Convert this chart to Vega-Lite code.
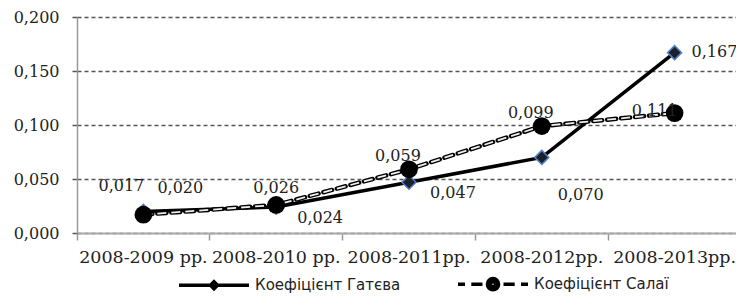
{
  "$schema": "https://vega.github.io/schema/vega-lite/v6.json",
  "width": 659,
  "height": 216,
  "autosize": {"type": "none"},
  "padding": {"left": 77, "top": 17, "right": 0, "bottom": 63},
  "background": "white",
  "config": {
    "locale": {"number": {"decimal": ",", "thousands": " ", "grouping": [3], "currency": ["", ""]}},
    "view": {"stroke": null},
    "font": "DejaVu Serif"
  },
  "data": {
    "values": [
      {"period": "2008-2009 рр.", "series": "Коефіцієнт Гатєва", "value": 0.020},
      {"period": "2008-2010 рр.", "series": "Коефіцієнт Гатєва", "value": 0.024},
      {"period": "2008-2011рр.", "series": "Коефіцієнт Гатєва", "value": 0.047},
      {"period": "2008-2012рр.", "series": "Коефіцієнт Гатєва", "value": 0.070},
      {"period": "2008-2013рр.", "series": "Коефіцієнт Гатєва", "value": 0.167},
      {"period": "2008-2009 рр.", "series": "Коефіцієнт Салаї", "value": 0.017},
      {"period": "2008-2010 рр.", "series": "Коефіцієнт Салаї", "value": 0.026},
      {"period": "2008-2011рр.", "series": "Коефіцієнт Салаї", "value": 0.059},
      {"period": "2008-2012рр.", "series": "Коефіцієнт Салаї", "value": 0.099},
      {"period": "2008-2013рр.", "series": "Коефіцієнт Салаї", "value": 0.111}
    ]
  },
  "encoding": {
    "x": {
      "field": "period", "type": "ordinal", "sort": null, "bandPosition": 0.5,
      "scale": {"type": "band", "paddingInner": 0, "paddingOuter": 0, "range": [0, 664]},
      "axis": {
        "title": null, "bandPosition": 0, "labelOffset": 0, "labelAngle": 0,
        "tickSize": 7, "tickColor": "#999", "tickWidth": 1.5,
        "domainColor": "#aaa", "domainWidth": 2, "grid": false,
        "labelFont": "DejaVu Serif", "labelFontSize": 17.5, "labelColor": "#222", "labelPadding": 8
      }
    },
    "y": {
      "field": "value", "type": "quantitative",
      "scale": {"domain": [0, 0.2], "nice": false},
      "axis": {
        "title": null, "values": [0, 0.05, 0.1, 0.15, 0.2], "format": ".3f",
        "grid": true, "gridDash": [4, 3], "gridColor": "#555", "gridWidth": 1.5,
        "tickColor": "#555", "tickSize": 5, "tickWidth": 1.5,
        "domainColor": "#999", "domainWidth": 1.5,
        "labelFont": "DejaVu Serif", "labelFontSize": 16, "labelColor": "#222", "labelPadding": 13
      }
    }
  },
  "layer": [
    {
      "transform": [{"filter": "datum.series === 'Коефіцієнт Гатєва'"}],
      "mark": {"type": "line", "color": "black", "strokeWidth": 3.5}
    },
    {
      "transform": [{"filter": "datum.series === 'Коефіцієнт Гатєва'"}],
      "mark": {"type": "point", "shape": "diamond", "filled": true, "fill": "#1c1f2e", "stroke": "#4F81BD", "strokeWidth": 1.5, "size": 196, "opacity": 1}
    },
    {
      "transform": [{"filter": "datum.series === 'Коефіцієнт Салаї'"}],
      "mark": {"type": "line", "color": "black", "strokeWidth": 4.5, "strokeDash": [9, 5], "strokeCap": "round"}
    },
    {
      "transform": [{"filter": "datum.series === 'Коефіцієнт Салаї'"}],
      "mark": {"type": "line", "color": "#eeeeee", "strokeWidth": 1.8, "strokeDash": [9, 5], "strokeCap": "butt"}
    },
    {
      "transform": [{"filter": "datum.series === 'Коефіцієнт Салаї'"}],
      "mark": {"type": "point", "shape": "circle", "filled": true, "color": "black", "size": 314, "opacity": 1}
    },
    {
      "mark": {"type": "point", "filled": false, "color": "black", "opacity": 0},
      "encoding": {
        "shape": {
          "field": "series", "type": "nominal",
          "scale": {
            "domain": ["Коефіцієнт Гатєва", "Коефіцієнт Салаї"],
            "range": [
              "M-1,0L1,0M-0.1,0L0,-0.1L0.1,0L0,0.1Z",
              "M-1,0L-0.8,0M-0.62,0L-0.3,0M0.3,0L0.62,0M0.8,0L1,0M-0.03,0A0.03,0.03 0 1,1 0.03,0A0.03,0.03 0 1,1 -0.03,0ZM-0.08,0A0.08,0.08 0 1,1 0.08,0A0.08,0.08 0 1,1 -0.08,0ZM-0.12,0A0.12,0.12 0 1,1 0.12,0A0.12,0.12 0 1,1 -0.12,0ZM-0.16,0A0.16,0.16 0 1,1 0.16,0A0.16,0.16 0 1,1 -0.16,0Z"
            ]
          },
          "legend": {
            "title": null, "orient": "none", "legendX": 100, "legendY": 230, "direction": "horizontal",
            "padding": 0, "symbolSize": 4900, "symbolStrokeWidth": 3.5,
            "symbolFillColor": "black", "symbolStrokeColor": "black", "symbolOpacity": 1,
            "labelFont": "DejaVu Sans", "labelFontSize": 15, "labelColor": "#222",
            "labelOffset": 4, "columnPadding": 50
          }
        }
      }
    },
    {
      "transform": [{"filter": "datum.series === 'Коефіцієнт Гатєва' && datum.period === '2008-2009 рр.'"}],
      "mark": {"type": "text", "align": "left", "baseline": "middle", "dx": 14, "dy": -23, "font": "DejaVu Serif", "fontSize": 16, "color": "#222"},
      "encoding": {"text": {"field": "value", "type": "quantitative", "format": ".3f"}}
    },
    {
      "transform": [{"filter": "datum.series === 'Коефіцієнт Гатєва' && (datum.period === '2008-2010 рр.' || datum.period === '2008-2011рр.')"}],
      "mark": {"type": "text", "align": "left", "baseline": "middle", "dx": 21, "dy": 11, "font": "DejaVu Serif", "fontSize": 16, "color": "#222"},
      "encoding": {"text": {"field": "value", "type": "quantitative", "format": ".3f"}}
    },
    {
      "transform": [{"filter": "datum.series === 'Коефіцієнт Гатєва' && datum.period === '2008-2012рр.'"}],
      "mark": {"type": "text", "align": "left", "baseline": "middle", "dx": 16, "dy": 38, "font": "DejaVu Serif", "fontSize": 16, "color": "#222"},
      "encoding": {"text": {"field": "value", "type": "quantitative", "format": ".3f"}}
    },
    {
      "transform": [{"filter": "datum.series === 'Коефіцієнт Гатєва' && datum.period === '2008-2013рр.'"}],
      "mark": {"type": "text", "align": "left", "baseline": "middle", "dx": 17, "dy": -1, "font": "DejaVu Serif", "fontSize": 16, "color": "#222"},
      "encoding": {"text": {"field": "value", "type": "quantitative", "format": ".3f"}}
    },
    {
      "transform": [{"filter": "datum.series === 'Коефіцієнт Салаї' && datum.period === '2008-2009 рр.'"}],
      "mark": {"type": "text", "align": "center", "baseline": "middle", "dx": -22, "dy": -29, "font": "DejaVu Serif", "fontSize": 16, "color": "#222"},
      "encoding": {"text": {"field": "value", "type": "quantitative", "format": ".3f"}}
    },
    {
      "transform": [{"filter": "datum.series === 'Коефіцієнт Салаї' && datum.period === '2008-2010 рр.'"}],
      "mark": {"type": "text", "align": "center", "baseline": "middle", "dx": 0, "dy": -17, "font": "DejaVu Serif", "fontSize": 16, "color": "#222"},
      "encoding": {"text": {"field": "value", "type": "quantitative", "format": ".3f"}}
    },
    {
      "transform": [{"filter": "datum.series === 'Коефіцієнт Салаї' && (datum.period === '2008-2011рр.' || datum.period === '2008-2012рр.')"}],
      "mark": {"type": "text", "align": "center", "baseline": "middle", "dx": -11, "dy": -13, "font": "DejaVu Serif", "fontSize": 16, "color": "#222"},
      "encoding": {"text": {"field": "value", "type": "quantitative", "format": ".3f"}}
    },
    {
      "transform": [{"filter": "datum.series === 'Коефіцієнт Салаї' && datum.period === '2008-2013рр.'"}],
      "mark": {"type": "text", "align": "center", "baseline": "middle", "dx": -20, "dy": -2, "font": "DejaVu Serif", "fontSize": 16, "color": "#222"},
      "encoding": {"text": {"field": "value", "type": "quantitative", "format": ".3f"}}
    }
  ]
}
